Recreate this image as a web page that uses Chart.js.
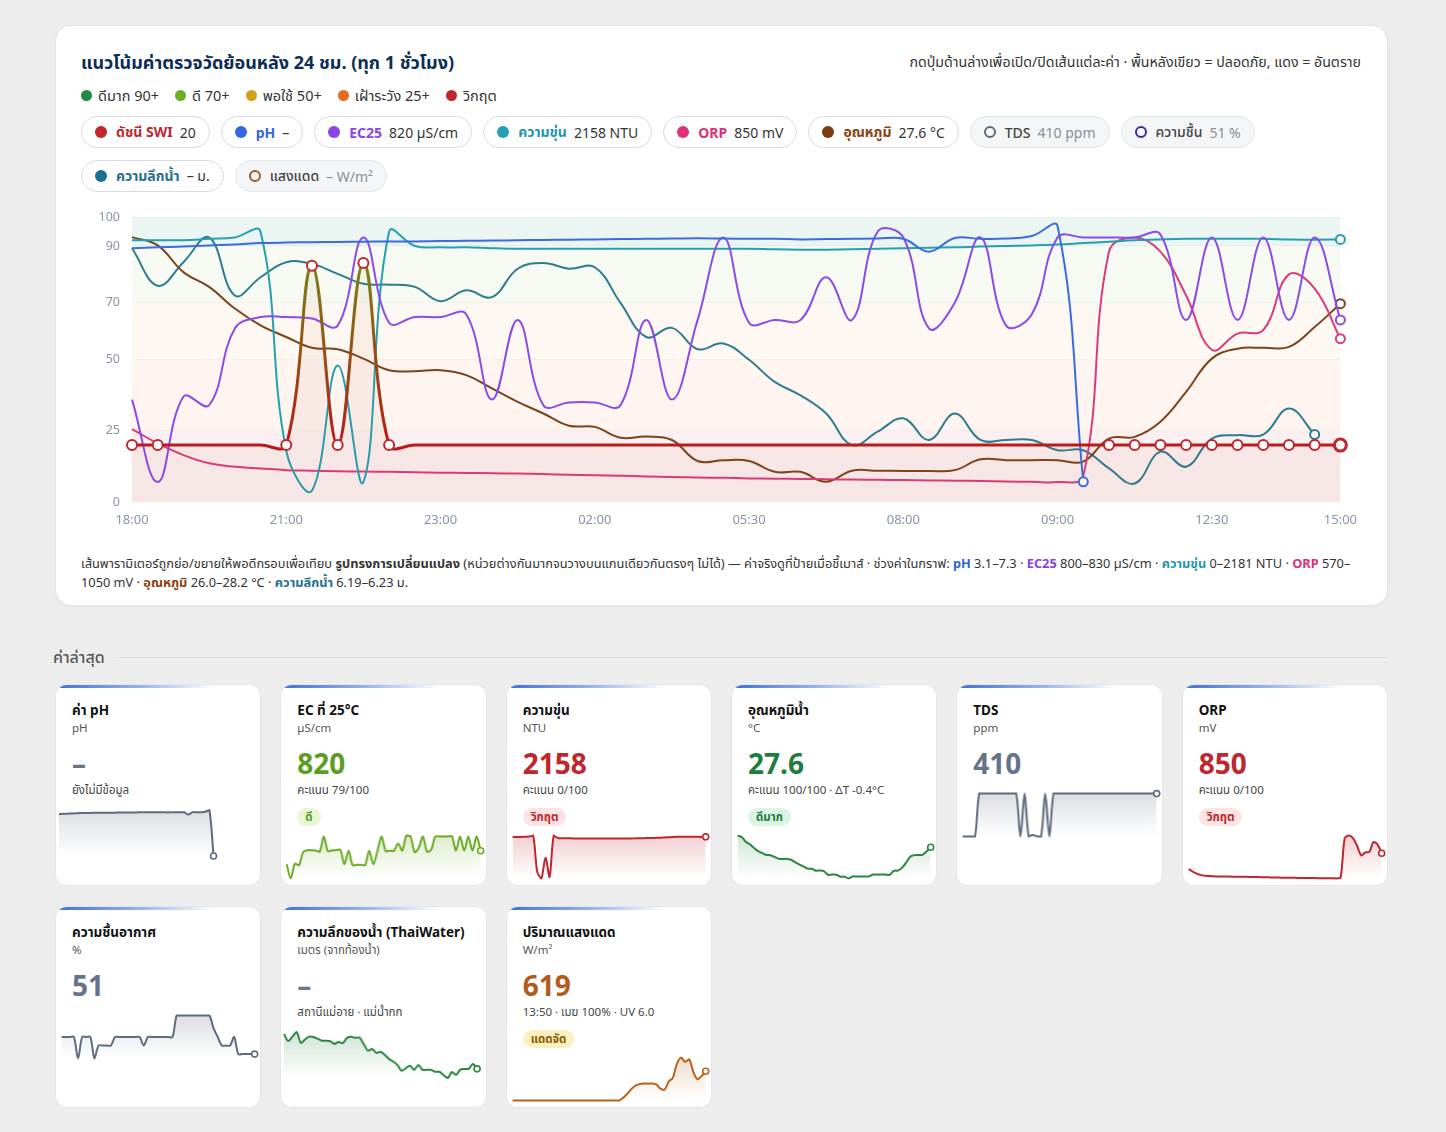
<!DOCTYPE html>
<html lang="th">
<head>
<meta charset="utf-8">
<script src="https://cdn.jsdelivr.net/npm/chart.js@4.4.1/dist/chart.umd.min.js"></script>
<style>
*{box-sizing:border-box;margin:0;padding:0}
html,body{width:1446px;height:1132px;overflow:hidden}
body{background:#ededed;font-family:"Noto Sans","Noto Sans Thai",sans-serif;color:#222;position:relative}
.main{position:absolute;left:55px;top:25px;width:1333px;height:581px;background:#fff;border:1px solid #e2e4e8;border-radius:16px;box-shadow:0 1px 3px rgba(0,0,0,.04)}
.title{position:absolute;left:25px;top:25px;font-size:18px;font-weight:700;line-height:22px;color:#0c2d57;white-space:nowrap}
.note{position:absolute;right:26px;top:27px;font-size:14.2px;line-height:18px;color:#333;white-space:nowrap}
.legend{position:absolute;left:25px;top:60px;display:flex;gap:16px;font-size:14.5px;line-height:18px;color:#333}
.legend span{display:inline-flex;align-items:center}
.legend i{display:inline-block;width:11px;height:11px;border-radius:50%;margin-right:6px}
.pills{position:absolute;left:25px;width:1290px;display:flex;gap:11px}
.pill{display:inline-flex;align-items:center;height:32px;padding:0 13px;border:1px solid #d8dce2;border-radius:16px;background:#fff;font-size:14px;white-space:nowrap;color:#333}
.pill .d{width:12px;height:12px;border-radius:50%;margin-right:9px}
.pill b{font-weight:700;margin-right:7px}
.pill.off{background:#f4f5f7;border-color:#e3e5e9}
.pill.off .d{background:transparent;border:2px solid}
.pill.off b{font-weight:500;color:#444}
.pill.off .v{color:#8a8f98}
.chartbox{position:absolute;left:25px;top:172px;width:1286px;height:332px}
.caption{position:absolute;left:25px;top:528px;width:1282px;font-size:12.8px;line-height:19px;color:#333}
.caption b{font-weight:700}
.sec{position:absolute;left:53px;top:645px;width:1335px;display:flex;align-items:center}
.sec span{font-size:16px;font-weight:500;color:#555;line-height:24px;margin-right:12px}
.sec i{flex:1;height:1px;background:#dcdcdc}
.cards{position:absolute;left:55px;top:684px;width:1333px;display:grid;grid-template-columns:repeat(6,1fr);column-gap:19px;row-gap:20px;grid-auto-rows:202px}
.card{position:relative;background:#fff;border:1px solid #e4e6ea;border-radius:12px;padding:15px 16px 0;overflow:hidden}
.card::before{content:'';position:absolute;left:0;right:0;top:0;height:3px;background:linear-gradient(90deg,#3f6fd6 0%,rgba(63,111,214,.55) 40%,rgba(63,111,214,0) 78%)}
.ct{font-size:13.5px;font-weight:700;line-height:20px;color:#111;white-space:nowrap}
.cu{font-size:11.5px;line-height:16px;color:#555}
.cv{font-size:28px;font-weight:700;line-height:34px;margin-top:10px}
.cs{font-size:11.5px;line-height:16px;margin-top:2px;color:#444;white-space:nowrap}
.bw{margin-top:6px;height:18px}
.badge{display:inline-block;font-size:11.5px;font-weight:700;line-height:18px;padding:0 8px;border-radius:9px}
.sp{height:54px;margin:8px -16px 0;position:relative}
</style>
</head>
<body>
<div class="main">
  <div class="title">แนวโน้มค่าตรวจวัดย้อนหลัง 24 ชม. (ทุก 1 ชั่วโมง)</div>
  <div class="note">กดปุ่มด้านล่างเพื่อเปิด/ปิดเส้นแต่ละค่า · พื้นหลังเขียว = ปลอดภัย, แดง = อันตราย</div>
  <div class="legend">
    <span><i style="background:#1f8a45"></i>ดีมาก 90+</span>
    <span><i style="background:#6ab023"></i>ดี 70+</span>
    <span><i style="background:#d4a012"></i>พอใช้ 50+</span>
    <span><i style="background:#ea6a1c"></i>เฝ้าระวัง 25+</span>
    <span><i style="background:#c0262d"></i>วิกฤต</span>
  </div>
  <div class="pills" style="top:90px">
    <span class="pill"><span class="d" style="background:#c0262d"></span><b style="color:#c0262d">ดัชนี SWI</b><span class="v">20</span></span>
    <span class="pill"><span class="d" style="background:#3467e0"></span><b style="color:#3467e0">pH</b><span class="v">–</span></span>
    <span class="pill"><span class="d" style="background:#8b44e6"></span><b style="color:#8b44e6">EC25</b><span class="v">820 µS/cm</span></span>
    <span class="pill"><span class="d" style="background:#23a0b4"></span><b style="color:#1f97aa">ความขุ่น</b><span class="v">2158 NTU</span></span>
    <span class="pill"><span class="d" style="background:#e0337c"></span><b style="color:#dd2f7a">ORP</b><span class="v">850 mV</span></span>
    <span class="pill"><span class="d" style="background:#7a3a12"></span><b style="color:#8a4210">อุณหภูมิ</b><span class="v">27.6 °C</span></span>
    <span class="pill off"><span class="d" style="border-color:#5f6b7a"></span><b>TDS</b><span class="v">410 ppm</span></span>
    <span class="pill off"><span class="d" style="border-color:#3b2fa0"></span><b>ความชื้น</b><span class="v">51 %</span></span>
  </div>
  <div class="pills" style="top:134px">
    <span class="pill"><span class="d" style="background:#1f6f8f"></span><b style="color:#1f6f8f">ความลึกน้ำ</b><span class="v">– ม.</span></span>
    <span class="pill off"><span class="d" style="border-color:#9a5a2a"></span><b>แสงแดด</b><span class="v">– W/m²</span></span>
  </div>
  <div class="chartbox"><canvas id="main"></canvas></div>
  <div class="caption">เส้นพารามิเตอร์ถูกย่อ/ขยายให้พอดีกรอบเพื่อเทียบ <b>รูปทรงการเปลี่ยนแปลง</b> (หน่วยต่างกันมากจนวางบนแกนเดียวกันตรงๆ ไม่ได้) — ค่าจริงดูที่ป้ายเมื่อชี้เมาส์ · ช่วงค่าในกราฟ: <b style="color:#2f63d8">pH</b> 3.1–7.3 · <b style="color:#8b3fe0">EC25</b> 800–830 µS/cm · <b style="color:#1f97aa">ความขุ่น</b> 0–2181 NTU · <b style="color:#dd2f7a">ORP</b> 570–1050 mV · <b style="color:#8a4210">อุณหภูมิ</b> 26.0–28.2 °C · <b style="color:#1f6f8f">ความลึกน้ำ</b> 6.19–6.23 ม.</div>
</div>

<div class="sec"><span>ค่าล่าสุด</span><i></i></div>

<div class="cards">
  <div class="card"><div class="ct">ค่า pH</div><div class="cu">pH</div><div class="cv" style="color:#6b7685">–</div><div class="cs">ยังไม่มีข้อมูล</div><div class="sp"><canvas id="sp-ph"></canvas></div></div>
  <div class="card"><div class="ct">EC ที่ 25°C</div><div class="cu">µS/cm</div><div class="cv" style="color:#5a9e1f">820</div><div class="cs">คะแนน 79/100</div><div class="bw"><span class="badge" style="background:#e8f6d5;color:#5a9e1f">ดี</span></div><div class="sp"><canvas id="sp-ec"></canvas></div></div>
  <div class="card"><div class="ct">ความขุ่น</div><div class="cu">NTU</div><div class="cv" style="color:#c0262d">2158</div><div class="cs">คะแนน 0/100</div><div class="bw"><span class="badge" style="background:#fde3e3;color:#c0262d">วิกฤต</span></div><div class="sp"><canvas id="sp-turb"></canvas></div></div>
  <div class="card"><div class="ct">อุณหภูมิน้ำ</div><div class="cu">°C</div><div class="cv" style="color:#1e7d3e">27.6</div><div class="cs">คะแนน 100/100 · ΔT -0.4°C</div><div class="bw"><span class="badge" style="background:#dcf4e3;color:#1e7d3e">ดีมาก</span></div><div class="sp"><canvas id="sp-temp"></canvas></div></div>
  <div class="card"><div class="ct">TDS</div><div class="cu">ppm</div><div class="cv" style="color:#64748b">410</div><div class="sp"><canvas id="sp-tds"></canvas></div></div>
  <div class="card"><div class="ct">ORP</div><div class="cu">mV</div><div class="cv" style="color:#c0262d">850</div><div class="cs">คะแนน 0/100</div><div class="bw"><span class="badge" style="background:#fde3e3;color:#c0262d">วิกฤต</span></div><div class="sp"><canvas id="sp-orp"></canvas></div></div>
  <div class="card"><div class="ct">ความชื้นอากาศ</div><div class="cu">%</div><div class="cv" style="color:#64748b">51</div><div class="sp"><canvas id="sp-hum"></canvas></div></div>
  <div class="card"><div class="ct">ความลึกของน้ำ (ThaiWater)</div><div class="cu">เมตร (จากท้องน้ำ)</div><div class="cv" style="color:#6b7685">–</div><div class="cs">สถานีแม่อาย · แม่น้ำกก</div><div class="sp"><canvas id="sp-depth"></canvas></div></div>
  <div class="card"><div class="ct">ปริมาณแสงแดด</div><div class="cu">W/m²</div><div class="cv" style="color:#b45a1a">619</div><div class="cs">13:50 · เมฆ 100% · UV 6.0</div><div class="bw"><span class="badge" style="background:#fdf0c0;color:#8a5a00">แดดจัด</span></div><div class="sp"><canvas id="sp-light"></canvas></div></div>
</div>

<script>
// ---------- DATA ----------
const categories = [
  '18:00','18:30','19:00','19:30','20:00','20:30',
  '21:00','21:20','21:40','22:00','22:20','22:40',
  '23:00','23:30','00:00','00:30','01:00','01:30',
  '02:00','02:35','03:10','03:45','04:20','04:55',
  '05:30','05:55','06:20','06:45','07:10','07:35',
  '08:00','08:10','08:20','08:30','08:40','08:50',
  '09:00','09:35','10:10','10:45','11:20','11:55',
  '12:30','13:00','13:30','14:00','14:30','15:00'
];
const yTickValues = [0, 25, 50, 70, 90, 100];

const swiScore = [20,20,20,20,20,20, 20,83,20,84,20,20, 20,20,20,20,20,20, 20,20,20,20,20,20,
                  20,20,20,20,20,20, 20,20,20,20,20,20, 20,20,20,20,20,20, 20,20,20,20,20,20];
const swiMarkedIdx = [0,1,6,7,8,9,10,38,39,40,41,42,43,44,45,46,47];

const phShape = [89.2,89.5,89.8,90.2,90.5,91.0, 91.2,91.3,91.4,91.5,91.6,91.6, 91.7,91.8,91.9,92.0,92.1,92.2,
                 92.3,92.4,92.5,92.6,92.7,92.6, 92.5,92.5,92.3,92.4,92.5,92.6, 92.5,88.0,92.8,92.5,92.6,93.5,
                 97.0,7.1,null,null,null,null, null,null,null,null,null,null];
const ecShape = [36,7,37,34,61,65, 65,64.5,62,93,63,65, 65,66,36,64,34,35, 35,34,64,36,64,93,
                 63,64,64,79,64,95, 93,61,70,93,62,66, 93,93,93,93,94,64, 93,64,93,64,93,64];
const turbShape = [92,92,92,92.5,93,95, 18,4,48,7,95,90, 89.5,89.5,89.2,89,89,89, 89,89,89,89,89,89,
                   89,88.8,88.7,88.7,88.8,89, 89.2,89.4,89.5,89.8,90,90.2, 90.5,91,91.5,92,92.3,92.5,
                   92.5,92.5,92.5,92.3,92.2,92.3];
const orpShape = [25.6,20.6,16.5,13.6,12.4,11.8, 11.2,11,10.8,10.7,10.6,10.5, 10.3,10.2,10.1,10,9.8,9.6,
                  9.4,9.2,9,8.8,8.6,8.5, 8.3,8.2,8.1,8,7.9,7.8, 7.7,7.6,7.5,7.4,7.2,7.1,
                  7,9,88,93,88,72.6, 53.5,59.2,60.4,80,75,57.4];
const tempShape = [93.1,90.2,80.8,75.6,68,62.1, 58,54.2,53.7,50.4,46.3,46, 46.3,44.6,39.9,35.2,31.1,26.8,
                   26.4,22.6,23,21.8,14.4,14.7, 14.4,10.6,10.6,7.1,11,11, 10.9,10.9,11.2,15,14.7,14.7,
                   14.7,14.2,22.3,22.9,28.2,38.7, 50.4,53.9,54.2,54.5,61.5,69.7];
const depthShape = [89.2,76,84.3,93,72.6,79, 84.3,83.7,80.2,76.7,76.4,75.6, 70.6,74.4,72,82,84,82,
                    82.5,70,58,61.2,53.7,55.7, 50,42.2,37.5,31.1,20,24.7, 29.4,21.8,31.1,21.8,21.8,21.8,
                    18.2,18.2,11.8,6.5,17.7,12.4, 22.3,23.5,23.7,32.9,23.7,null];

const tdsPpm = [380,380,380,380,410,410, 410,410,410,410,410,410, 410,410,380,410,380,381,
                380,380,410,380,410,410, 410,410,410,410,410,410, 410,410,410,410,410,410,
                410,410,410,410,410,410, 410,410,410,410,410,410];
const humidityPct = [55,55,55,55,50,55, 55,55,50,53,53,53, 53,55,55,55,55,55, 55,55,53,55,55,55,
                     55,55,55,55,60,60, 60,60,60,60,60,60, 60,57,55,53,53,53, 55,51,51,51,51,51];
const lightWm2 = [0,0,0,0,0,0, 0,0,0,0,0,0, 0,0,0,0,0,0, 0,0,0,0,0,0, 0,0,0,60,150,250,
                  320,350,360,355,360,340, 250,230,400,480,780,910, 820,870,600,450,520,619];

// ---------- STYLE ----------
const FONT = '"Noto Sans","Noto Sans Thai",sans-serif';
Chart.defaults.font.family = FONT;
Chart.defaults.animation = false;

const bands = [
  {from:90, to:100, color:'rgba(26,140,110,0.085)'},
  {from:70, to:90,  color:'rgba(110,170,40,0.06)'},
  {from:50, to:70,  color:'rgba(225,150,40,0.065)'},
  {from:25, to:50,  color:'rgba(234,106,26,0.065)'},
  {from:0,  to:25,  color:'rgba(200,30,40,0.065)'}
];
const bandPlugin = {
  id:'bands',
  beforeDraw(chart){
    const {ctx, chartArea:a, scales:{y}} = chart;
    if(!a) return;
    ctx.save();
    bands.forEach(b=>{
      const y1 = y.getPixelForValue(b.to), y2 = y.getPixelForValue(b.from);
      ctx.fillStyle = b.color;
      ctx.fillRect(a.left, y1, a.right-a.left, y2-y1);
    });
    ctx.restore();
  }
};

function lastIndex(arr){ for(let i=arr.length-1;i>=0;i--) if(arr[i]!==null) return i; return -1; }

function line(label, data, color){
  const li = lastIndex(data);
  return {
    label, data, borderColor:color, borderWidth:2, tension:0.4, fill:false, spanGaps:false, clip:8,
    pointRadius:c=>c.dataIndex===li?4.5:0, pointHoverRadius:0,
    pointBackgroundColor:'#fff', pointBorderColor:color, pointBorderWidth:2
  };
}

const swiLast = swiScore.length-1;
const swiDataset = {
  label:'ดัชนี SWI', data:swiScore, borderWidth:3, tension:0.4, clip:8,
  borderColor:c=>{
    const ch=c.chart, a=ch.chartArea;
    if(!a) return '#b91c1c';
    const y=ch.scales.y;
    const g=ch.ctx.createLinearGradient(0,y.getPixelForValue(20),0,y.getPixelForValue(85));
    g.addColorStop(0,'#b91c1c'); g.addColorStop(0.45,'#9a4a12'); g.addColorStop(1,'#74861a');
    return g;
  },
  fill:'origin', backgroundColor:'rgba(176,80,50,0.06)',
  pointRadius:c=>swiMarkedIdx.includes(c.dataIndex)?(c.dataIndex===swiLast?6:5):0,
  pointBackgroundColor:'#fff', pointBorderColor:'#c0262d',
  pointBorderWidth:c=>c.dataIndex===swiLast?3:2
};

new Chart(document.getElementById('main'), {
  type:'line',
  data:{
    labels:categories,
    datasets:[
      swiDataset,
      line('pH', phShape, '#3b6be2'),
      line('EC25', ecShape, '#8c4be6'),
      line('ความขุ่น', turbShape, '#23a0b2'),
      line('ORP', orpShape, '#dc3a7c'),
      line('อุณหภูมิ', tempShape, '#7c4219'),
      line('ความลึกน้ำ', depthShape, '#2e7c8f')
    ]
  },
  options:{
    responsive:true, maintainAspectRatio:false,
    layout:{padding:{top:5,right:14,bottom:0,left:0}},
    plugins:{legend:{display:false}, tooltip:{enabled:false}},
    scales:{
      x:{
        grid:{display:false, drawTicks:false}, border:{display:false},
        ticks:{autoSkip:false, maxRotation:0, padding:10, color:'#8b95a5', font:{size:13}},
        afterFit:s=>{s.height=28;}
      },
      y:{
        min:0, max:100,
        afterBuildTicks:s=>{s.ticks=yTickValues.map(v=>({value:v}));},
        afterFit:s=>{s.width=51;},
        grid:{color:'rgba(0,0,0,0.035)', drawTicks:false}, border:{display:false},
        ticks:{padding:12, color:'#8b95a5', font:{size:12.5}}
      }
    }
  },
  plugins:[bandPlugin]
});
// show only every 6th time label plus the last one
Chart.getChart('main').options.scales.x.ticks.callback = (v,i)=>(i%6===0||i===categories.length-1)?categories[i]:'';
Chart.getChart('main').update();

// ---------- SPARKLINES ----------
function hexA(hex,a){const n=parseInt(hex.slice(1),16);return `rgba(${n>>16&255},${n>>8&255},${n&255},${a})`;}
function spark(id, data, color){
  const vals=data.filter(v=>v!==null);
  const mn=Math.min(...vals), mx=Math.max(...vals);
  const li=lastIndex(data);
  const el=document.getElementById(id);
  new Chart(el,{
    type:'line',
    data:{labels:categories, datasets:[{
      data, borderColor:color, borderWidth:2, tension:0.3, spanGaps:false, clip:false,
      fill:'start',
      backgroundColor:c=>{
        const a=c.chart.chartArea; if(!a) return hexA(color,0.1);
        const g=c.chart.ctx.createLinearGradient(0,a.top,0,a.bottom);
        g.addColorStop(0,hexA(color,0.22)); g.addColorStop(1,hexA(color,0));
        return g;
      },
      pointRadius:c=>c.dataIndex===li?3:0, pointBackgroundColor:'#fff',
      pointBorderColor:color, pointBorderWidth:1.6
    }]},
    options:{
      responsive:true, maintainAspectRatio:false,
      layout:{padding:{left:3,right:5,top:4,bottom:4}},
      plugins:{legend:{display:false},tooltip:{enabled:false}},
      scales:{x:{display:false}, y:{display:false, min:mn, max:mx}}
    }
  });
}
spark('sp-ph', phShape, '#5f6b7e');
spark('sp-ec', ecShape, '#6aaa22');
spark('sp-turb', turbShape, '#c0262d');
spark('sp-temp', tempShape, '#2e8540');
spark('sp-tds', tdsPpm, '#5f6b7e');
spark('sp-orp', orpShape, '#c0262d');
spark('sp-hum', humidityPct, '#5f6b7e');
spark('sp-depth', depthShape, '#2e8540');
spark('sp-light', lightWm2, '#b8621b');
</script>
</body>
</html>
